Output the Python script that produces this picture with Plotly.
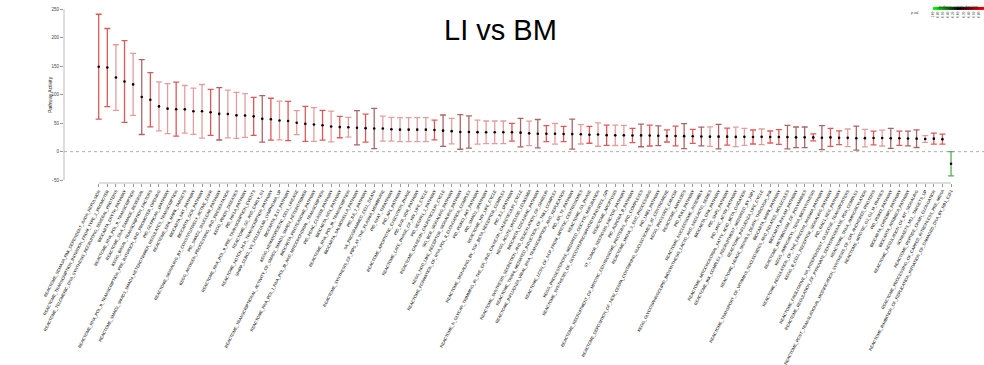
import plotly.graph_objects as go

# Pathway activity (mean) and error half-width, one entry per pathway
pathways = [
    "REACTOME_SEMA3A_PAK_DEPENDENT_AXON_REPULSION",
    "REACTOME_TRANSCRIPTION_INITIATION_FROM_TYPE_2_PROMOTER",
    "REACTOME_TELOMERIC_DNA_SYNTHESIS_RECRUITING_SEVERAL_PROTEINS",
    "BIOCARTA_ERYTH_PATHWAY",
    "REACTOME_RNA_POL_II_TRANSCRIPTION",
    "REACTOME_DNA_DAMAGE_REVERSAL",
    "KEGG_BASAL_TRANSCRIPTION_FACTORS",
    "REACTOME_RNA_POL_II_TRANSCRIPTION_PRE_INITIATION_AND_PROMOTER_OPENING",
    "PID_GLYPICAN_1PATHWAY",
    "REACTOME_SMAD2_SMAD3_SMAD4_HETEROTRIMER_REGULATES_TRANSCRIPTION",
    "REACTOME_ERK_MAPK_TARGETS",
    "BIOCARTA_NKT_PATHWAY",
    "BIOCARTA_GCR_PATHWAY",
    "REACTOME_SIGNALING_BY_CONSTITUTIVELY_ACTIVE_EGFR",
    "PID_SMAD2_3NUCLEAR_PATHWAY",
    "KEGG_ANTIGEN_PROCESSING_AND_PRESENTATION",
    "KEGG_PRION_DISEASES",
    "PID_HIF1A_PATHWAY",
    "REACTOME_RNA_POL_II_PRE_TRANSCRIPTION_EVENTS",
    "REACTOME_G0_AND_EARLY_G1",
    "REACTOME_NOTCH_HLH_TRANSCRIPTION_PATHWAY",
    "SHIPP_DLBCL_VS_FOLLICULAR_LYMPHOMA_UP",
    "BIOCARTA_IL17_PATHWAY",
    "KEGG_HEMATOPOIETIC_CELL_LINEAGE",
    "REACTOME_TRANSCRIPTIONAL_ACTIVITY_OF_SMAD2_SMAD3_SMAD4_HETEROTRIMER",
    "BIOCARTA_PROTEASOME_PATHWAY",
    "REACTOME_RNA_POL_I_RNA_POL_III_AND_MITOCHONDRIAL_TRANSCRIPTION",
    "PID_HDAC_CLASSII_PATHWAY",
    "BIOCARTA_NO1_PATHWAY",
    "REACTOME_RNA_POL_III_TRANSCRIPTION",
    "BIOCARTA_SALMONELLA_PATHWAY",
    "PID_IL6_7_PATHWAY",
    "SA_PROGRAMMED_CELL_DEATH",
    "REACTOME_SYNTHESIS_OF_PIPS_AT_THE_PLASMA_MEMBRANE",
    "PID_NFAT_TFPATHWAY",
    "PID_AP1_PATHWAY",
    "REACTOME_APOPTOTIC_EXECUTION_PHASE",
    "PID_RXR_VDR_PATHWAY",
    "REACTOME_LATE_PHASE_OF_HIV_LIFE_CYCLE",
    "PID_VEGFR1_2_PATHWAY",
    "REACTOME_CALNEXIN_CALRETICULIN_CYCLE",
    "SIG_BCR_SIGNALING_PATHWAY",
    "KEGG_NOD_LIKE_RECEPTOR_SIGNALING_PATHWAY",
    "REACTOME_FORMATION_OF_RNA_POL_II_ELONGATION_COMPLEX",
    "PID_PI3KCI_AKT_PATHWAY",
    "PID_SMAD2_3PATHWAY",
    "REACTOME_HIV_LIFE_CYCLE",
    "REACTOME_SIGNALING_BY_TGF_BETA_RECEPTOR_COMPLEX",
    "PID_IL2_1PATHWAY",
    "REACTOME_N_GLYCAN_TRIMMING_IN_THE_ER_AND_CALNEXIN_CALRETICULIN_CYCLE",
    "KEGG_ACUTE_MYELOID_LEUKEMIA",
    "BIOCARTA_CDC42RAC_PATHWAY",
    "REACTOME_SYNTHESIS_SECRETION_AND_DEACYLATION_OF_GHRELIN",
    "REACTOME_TRAF6_MEDIATED_INDUCTION_OF_TAK1_COMPLEX",
    "REACTOME_INFLUENZA_VIRAL_RNA_TRANSCRIPTION_AND_REPLICATION",
    "PID_AR_TF_PATHWAY",
    "REACTOME_LOSS_OF_NLP_FROM_MITOTIC_CENTROSOMES",
    "REACTOME_G1_PHASE",
    "KEGG_PROGESTERONE_MEDIATED_OOCYTE_MATURATION",
    "REACTOME_SYNTHESIS_OF_GLYCOSYLPHOSPHATIDYLINOSITOL_GPI",
    "REACTOME_APOPTOSIS",
    "ST_TUMOR_NECROSIS_FACTOR_PATHWAY",
    "PID_AURORA_B_PATHWAY",
    "REACTOME_RECRUITMENT_OF_MITOTIC_CENTROSOME_PROTEINS_AND_COMPLEXES",
    "REACTOME_MRNA_3_END_PROCESSING",
    "PID_LKB1_PATHWAY",
    "REACTOME_DEPOSITION_OF_NEW_CENPA_CONTAINING_NUCLEOSOMES_AT_CENTROMERE",
    "KEGG_PROSTATE_CANCER",
    "REACTOME_AMYLOIDS",
    "PID_PLK1_PATHWAY",
    "REACTOME_NUCLEOSOME_ASSEMBLY",
    "KEGG_GLYCOSPHINGOLIPID_BIOSYNTHESIS_LACTO_AND_NEOLACTO_SERIES",
    "BIOCARTA_ERK_PATHWAY",
    "PID_SHP2_PATHWAY",
    "PID_MYC_ACTIV_PATHWAY",
    "REACTOME_MITOCHONDRIAL_FATTY_ACID_BETA_OXIDATION",
    "REACTOME_IKK_COMPLEX_RECRUITMENT_MEDIATED_BY_RIP1",
    "REACTOME_INFLUENZA_LIFE_CYCLE",
    "REACTOME_NRAGE_SIGNALS_DEATH_THROUGH_JNK",
    "BIOCARTA_MAPK_PATHWAY",
    "REACTOME_TRANSPORT_OF_VITAMINS_NUCLEOSIDES_AND_RELATED_MOLECULES",
    "BIOCARTA_INFLAM_PATHWAY",
    "REACTOME_METABOLISM_OF_POLYAMINES",
    "KEGG_AMINOACYL_TRNA_BIOSYNTHESIS",
    "REACTOME_REGULATION_OF_THE_FANCONI_ANEMIA_PATHWAY",
    "KEGG_B_CELL_RECEPTOR_SIGNALING_PATHWAY",
    "PID_RAC1_REG_PATHWAY",
    "REACTOME_FACILITATIVE_NA_INDEPENDENT_GLUCOSE_TRANSPORTERS",
    "REACTOME_REGULATION_OF_PYRUVATE_DEHYDROGENASE_PDH_COMPLEX",
    "REACTOME_TRNA_AMINOACYLATION",
    "REACTOME_POST_TRANSLATIONAL_MODIFICATION_SYNTHESIS_OF_GPI_ANCHORED_PROTEINS",
    "REACTOME_MITOTIC_G2_G2_M_PHASES",
    "PID_PI3KCI_PATHWAY",
    "BIOCARTA_CHREBP2_PATHWAY",
    "BIOCARTA_ATRBRCA_PATHWAY",
    "REACTOME_REGULATION_OF_KIT_SIGNALING",
    "SCHRAETS_MLL_TARGETS_UP",
    "REACTOME_PEPTIDE_CHAIN_ELONGATION",
    "REACTOME_PROCESSING_OF_CAPPED_INTRONLESS_PRE_MRNA",
    "REACTOME_INHIBITION_OF_REPLICATION_INITIATION_OF_DAMAGED_DNA_BY_RB1_E2F1",
]

activity = [
    149, 147.5, 130, 123, 118, 95.8, 91, 79.4, 75.4, 74.5,
    74.2, 70.8, 70.8, 69, 66.3, 66, 63.7, 63.4, 61.9, 57.5,
    56.9, 54.6, 53.7, 50.8, 48.8, 47.6, 46.3, 44.2, 43.1, 42.8,
    42, 41.2, 40.6, 40.5, 39.4, 38.6, 38.6, 38.6, 38.6, 37.9,
    36.8, 36, 34.6, 34.6, 34.2, 33.9, 33.9, 33.9, 34, 33.3,
    32.1, 31.5, 31.5, 31.3, 31, 30.8, 30.4, 29.6, 30, 28.9,
    28.6, 28.6, 28.3, 28.5, 28.3, 27.8, 27.5, 27.5, 27.2, 26.9,
    26.6, 26.3, 26.3, 26.3, 25.9, 26, 25.7, 26, 25.7, 25.7,
    25.5, 25.1, 25.1, 25, 24.5, 25, 24.3, 24.2, 23.6, 23.7,
    23.9, 23.9, 23.4, 23.4, 23, 22.8, 22.2, 22.8, 21.9, -21.3,
]

error = [
    92, 68.5, 57.5, 71.8, 54.5, 65.7, 47.6, 43, 43.8, 47.3,
    41.8, 40.6, 47, 40.3, 45.9, 42, 40.3, 38.3, 33.3, 40.9,
    36.8, 33.9, 34.5, 21, 30.7, 29.5, 26, 26.9, 18.7, 17.3,
    30, 24.5, 35.3, 21.9, 20.8, 21, 21, 21, 21, 17.3,
    27.5, 22.5, 30.4, 28.3, 21, 19.9, 19.9, 19.9, 15.5, 25.1,
    21.6, 24.9, 14, 18.1, 13.5, 26.3, 17, 14.9, 20.5, 17.8,
    17.8, 17.5, 12.6, 19.9, 18.4, 17.3, 10.6, 17.3, 21.9, 12.3,
    16.4, 17.2, 21.6, 14.9, 17.2, 14.9, 12.3, 13.7, 10.5, 13.1,
    20.7, 18.1, 18.1, 6.2, 21, 15.8, 12, 15.5, 21, 15.5,
    12, 14, 17.5, 12.5, 12.9, 15.5, 5.8, 9.7, 8.8, 21.3,
]

# Direction of pathway activity (-1 green ... 0 black ... +1 red) and its p-value
direction = [
    0.8, 0.8, 0.7, 0.8, 0.7, 0.45, 0.8, 0.7, 0.7, 0.8,
    0.7, 0.7, 0.7, 0.8, 0.45, 0.7, 0.7, 0.7, 0.8, 0.45,
    0.8, 0.7, 0.8, 0.7, 0.8, 0.7, 0.8, 0.7, 0.8, 0.7,
    0.45, 0.8, 0.45, 0.7, 0.7, 0.7, 0.7, 0.7, 0.7, 0.8,
    0.45, 0.7, 0.45, 0.45, 0.7, 0.7, 0.7, 0.7, 0.8, 0.45,
    0.7, 0.45, 0.8, 0.7, 0.8, 0.45, 0.7, 0.8, 0.7, 0.8,
    0.7, 0.7, 0.8, 0.45, 0.8, 0.45, 0.8, 0.8, 0.45, 0.8,
    0.45, 0.7, 0.45, 0.8, 0.7, 0.7, 0.8, 0.7, 0.8, 0.8,
    0.45, 0.45, 0.45, 0.8, 0.45, 0.8, 0.8, 0.7, 0.45, 0.7,
    0.8, 0.7, 0.45, 0.8, 0.45, 0.45, 0.7, 0.8, 0.8, -0.5,
]

pvalue = [
    0.004, 0.004, 0.04, 0.004, 0.04, 0.02, 0.004, 0.04, 0.04, 0.004,
    0.04, 0.04, 0.04, 0.004, 0.02, 0.04, 0.04, 0.04, 0.004, 0.02,
    0.004, 0.04, 0.004, 0.04, 0.004, 0.04, 0.004, 0.04, 0.004, 0.04,
    0.02, 0.004, 0.02, 0.04, 0.04, 0.04, 0.04, 0.04, 0.04, 0.004,
    0.02, 0.04, 0.02, 0.02, 0.04, 0.04, 0.04, 0.04, 0.004, 0.02,
    0.04, 0.02, 0.004, 0.04, 0.004, 0.02, 0.04, 0.004, 0.04, 0.004,
    0.04, 0.04, 0.004, 0.02, 0.004, 0.02, 0.004, 0.004, 0.02, 0.004,
    0.02, 0.04, 0.02, 0.004, 0.04, 0.04, 0.004, 0.04, 0.004, 0.004,
    0.02, 0.02, 0.02, 0.004, 0.02, 0.004, 0.004, 0.04, 0.02, 0.04,
    0.004, 0.04, 0.02, 0.004, 0.02, 0.02, 0.04, 0.004, 0.004, 0.008,
]

y_ticks = [-50, 0, 50, 100, 150, 200, 250]
scale_ticks = [-1.0, -0.8, -0.6, -0.4, -0.2, 0.0, 0.2, 0.4, 0.6, 0.8, 1.0]

FONT = "Arial, Liberation Sans, sans-serif"


def bar_colour(d, p):
    """Green-black-red direction colour, faded by significance."""
    alpha = 0.65 if p < 0.01 else (0.6 if p < 0.03 else 0.38)
    if d >= 0:
        r, g = int(255 * d), 0
    else:
        r, g = 0, int(255 * -d)
    return f"rgba({r},{g},0,{alpha})"


fig = go.Figure()
n = len(pathways)
for i in range(n):
    fig.add_trace(go.Scatter(
        x=[i], y=[activity[i]], mode="markers",
        marker=dict(color="black", size=2.6),
        error_y=dict(type="data", symmetric=True, array=[error[i]],
                     color=bar_colour(direction[i], pvalue[i]),
                     thickness=1.3, width=3),
        showlegend=False, hoverinfo="skip",
    ))

# Colour key for the direction scale
fig.add_trace(go.Scatter(
    x=[0], y=[-1000], mode="markers", showlegend=False, hoverinfo="skip",
    marker=dict(
        color=[0], cmin=-1, cmax=1, size=1,
        colorscale=[[0, "#00ff00"], [0.5, "#000000"], [1, "#ff0000"]],
        showscale=True,
        colorbar=dict(
            orientation="h", xref="paper", yref="paper",
            x=0.9723, y=0.991, xanchor="center", yanchor="middle",
            len=51, lenmode="pixels", thickness=3, outlinewidth=0,
            tickvals=scale_ticks, ticktext=[f"{v:.2f}" for v in scale_ticks],
            tickangle=-90, tickfont=dict(size=3, color="#333", family=FONT),
            ticks="", ypad=0, xpad=0,
            title=dict(text="pathway activity direction", side="top",
                       font=dict(size=3.5, color="#333", family=FONT)),
        ),
    ),
))

x_lo, x_hi = -4.03, n - 1 + 3.83
y_lo, y_hi = -55, 252

fig.update_layout(
    width=984, height=365,
    margin=dict(l=64, r=0, t=8, b=182),
    plot_bgcolor="white", paper_bgcolor="white",
    font=dict(family=FONT),
    xaxis=dict(
        range=[x_lo, x_hi], showgrid=False, zeroline=False, showline=False,
        tickmode="array", tickvals=list(range(n)), ticktext=pathways,
        tickangle=-63, tickfont=dict(size=4.1, color="#000", family=FONT),
        ticks="outside", ticklen=3, tickcolor="#999", tickwidth=0.8,
        automargin=False,
    ),
    yaxis=dict(
        range=[y_lo, y_hi], showgrid=False, zeroline=False, showline=False,
        tickmode="array", tickvals=y_ticks,
        tickfont=dict(size=4.5, color="#444", family=FONT),
        ticks="outside", ticklen=3, tickcolor="#999", tickwidth=0.8,
        automargin=False,
    ),
    shapes=[
        dict(type="line", xref="paper", yref="y", x0=0, x1=1, y0=0, y1=0,
             line=dict(color="#9a9a9a", width=0.8, dash="dot")),
        dict(type="line", xref="paper", yref="y", x0=0, x1=0,
             y0=y_ticks[0], y1=y_ticks[-1], line=dict(color="#aaa", width=0.8)),
        dict(type="line", xref="x", yref="paper", x0=0, x1=n - 1, y0=0, y1=0,
             line=dict(color="#aaa", width=0.8)),
    ],
    annotations=[
        dict(text="LI vs BM", xref="paper", yref="paper", x=0.474, y=0.874,
             xanchor="center", yanchor="middle", showarrow=False,
             font=dict(size=29, color="black", family=FONT)),
        dict(text="Pathway Activity", xref="paper", yref="paper",
             x=-0.0152, y=0.503, textangle=-90, showarrow=False,
             xanchor="center", yanchor="middle",
             font=dict(size=5, color="#222", family=FONT)),
        dict(text="p.val", xref="paper", yref="paper", x=0.925, y=0.972,
             showarrow=False, xanchor="center", yanchor="middle",
             font=dict(size=3.5, color="#333", family=FONT)),
    ],
)

fig.write_html("out.html")
